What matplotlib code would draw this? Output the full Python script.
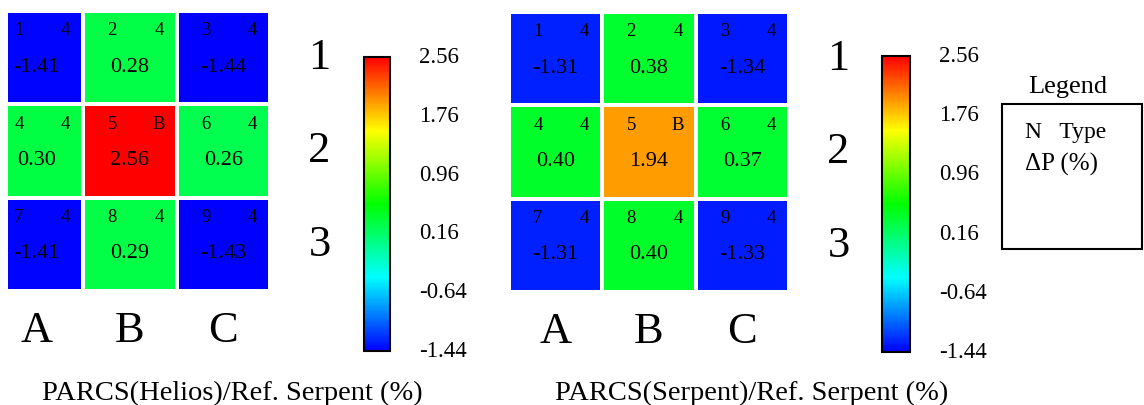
import numpy as np
import matplotlib
matplotlib.use('Agg')
import matplotlib.pyplot as plt
from matplotlib.colors import LinearSegmentedColormap, Normalize
from matplotlib.patches import Rectangle
from matplotlib.transforms import ScaledTranslation

plt.rcParams['font.family'] = ['Liberation Serif', 'DejaVu Serif']

# data: power difference per node (%)
helios = [[-1.41, 0.28, -1.44],
          [0.30, 2.56, 0.26],
          [-1.41, 0.29, -1.43]]
serpent = [[-1.31, 0.38, -1.34],
           [0.40, 1.94, 0.37],
           [-1.31, 0.40, -1.33]]
node_ids = [[1, 2, 3], [4, 5, 6], [7, 8, 9]]
node_types = [['4', '4', '4'], ['4', 'B', '4'], ['4', '4', '4']]
col_labels = ['A', 'B', 'C']
row_labels = ['1', '2', '3']
cbar_ticks = [-1.44, -0.64, 0.16, 0.96, 1.76, 2.56]
titles = ['PARCS(Helios)/Ref. Serpent (%)', 'PARCS(Serpent)/Ref. Serpent (%)']

W, H = 1144, 406
fig = plt.figure(figsize=(W / 100, H / 100), dpi=100)

cmap = LinearSegmentedColormap.from_list('rb', ['#0000ff', '#00ffff', '#00ff00', '#ffff00', '#ff0000'])
norm = Normalize(vmin=-1.44, vmax=2.56)


def px_box(x0, y0, x1, y1):
    # pixel box (top-left origin) -> figure fraction rect
    return [x0 / W, (H - y1) / H, (x1 - x0) / W, (y1 - y0) / H]


# left map is cut off on its left side in the original
panels = [
    (helios, px_box(8, 12, 270, 292), -0.5 + 18 / 93.3, px_box(364, 58, 390, 352), 232),
    (serpent, px_box(509, 13, 789, 293), -0.5, px_box(882, 57, 910, 353), 752),
]

for k, (vals, rect, x0, crect, tx) in enumerate(panels):
    ax = fig.add_axes(rect)
    arr = np.array(vals)
    mesh = ax.pcolormesh(np.arange(4) - 0.5, np.arange(4) - 0.5, arr, cmap=cmap, norm=norm,
                         edgecolors='white', linewidth=1.5)
    ax.set_xlim(x0, 2.5)
    ax.set_ylim(2.5, -0.5)
    ax.axis('off')

    for i in range(3):
        for j in range(3):
            ax.text(j - 0.19, i - 0.25, str(node_ids[i][j]), ha='center', va='baseline', fontsize=13.5)
            ax.text(j + 0.31, i - 0.25, node_types[i][j], ha='center', va='baseline', fontsize=13.5)
            ax.text(j, i + 0.14, f'{vals[i][j]:.2f}', ha='center', va='baseline', fontsize=16)

    for j, lab in enumerate(col_labels):
        ax.text(j, 3.04, lab, ha='center', va='baseline', fontsize=32, clip_on=False)
    for i, lab in enumerate(row_labels):
        ax.text(3.03, i + 0.11, lab, ha='center', va='baseline', fontsize=32, clip_on=False)

    cax = fig.add_axes(crect)
    cb = fig.colorbar(mesh, cax=cax, ticks=cbar_ticks)
    cb.ax.set_yticklabels([f'{t:.2f}' for t in cbar_ticks])
    cb.ax.tick_params(length=0, pad=21, labelsize=16.5)
    cb.outline.set_linewidth(1.5)
    # labels sit a little above their tick values in the original
    for lbl in cb.ax.get_yticklabels():
        lbl.set_transform(lbl.get_transform() + ScaledTranslation(0, 3 / 100, fig.dpi_scale_trans))

    fig.text(tx / W, (H - 400) / H, titles[k], ha='center', va='baseline', fontsize=20.5)

# legend box
fig.text(1068 / W, (H - 93) / H, 'Legend', ha='center', va='baseline', fontsize=19)
fig.patches.append(Rectangle((1002 / W, (H - 250) / H), 140 / W, 145 / H, fill=False,
                             edgecolor='black', linewidth=1.5, transform=fig.transFigure))
fig.text(1025 / W, (H - 138) / H, 'N   Type', ha='left', va='baseline', fontsize=17)
fig.text(1025 / W, (H - 171) / H, 'ΔP (%)', ha='left', va='baseline', fontsize=18)

fig.savefig('out.png', dpi=100, facecolor='white')
